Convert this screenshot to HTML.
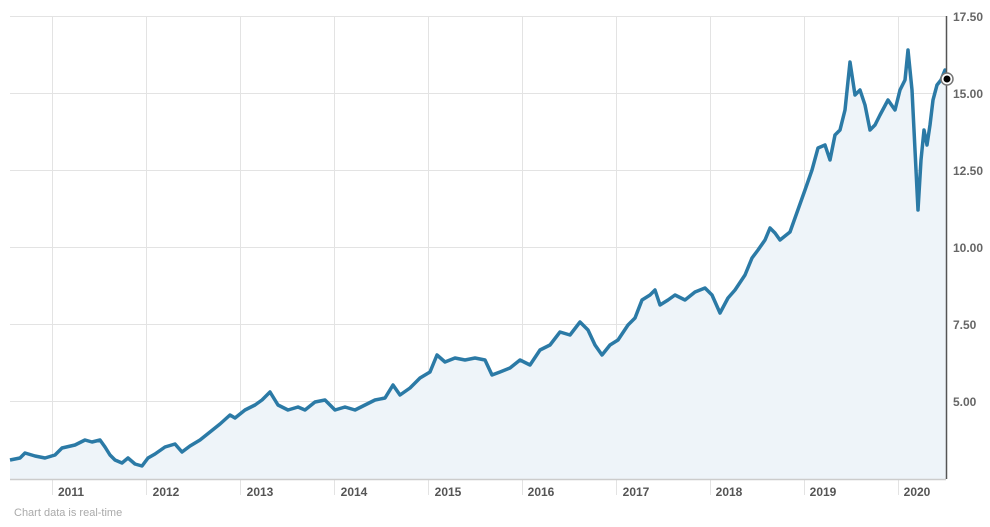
<!DOCTYPE html>
<html><head><style>
body{margin:0;background:#fff;width:990px;height:522px;overflow:hidden;font-family:"Liberation Sans",Arial,sans-serif}
</style></head><body>
<svg width="990" height="522" xmlns="http://www.w3.org/2000/svg">
<g stroke="#e3e3e3" stroke-width="1">
<line x1="10" y1="16.5" x2="946" y2="16.5"/><line x1="10" y1="93.5" x2="946" y2="93.5"/>
<line x1="10" y1="170.5" x2="946" y2="170.5"/><line x1="10" y1="247.5" x2="946" y2="247.5"/>
<line x1="10" y1="324.5" x2="946" y2="324.5"/><line x1="10" y1="401.5" x2="946" y2="401.5"/>
<line x1="52.5" y1="16" x2="52.5" y2="495"/><line x1="146.5" y1="16" x2="146.5" y2="495"/>
<line x1="240.5" y1="16" x2="240.5" y2="495"/><line x1="334.5" y1="16" x2="334.5" y2="495"/>
<line x1="428.5" y1="16" x2="428.5" y2="495"/><line x1="522.5" y1="16" x2="522.5" y2="495"/>
<line x1="616.5" y1="16" x2="616.5" y2="495"/><line x1="710.5" y1="16" x2="710.5" y2="495"/>
<line x1="804.5" y1="16" x2="804.5" y2="495"/><line x1="898.5" y1="16" x2="898.5" y2="495"/>
</g>
<path fill="#eef4f9" d="M10,460 L20,458 L25,453 L35,456 L45,458 L55,455 L62,448 L75,445 L85,440 L92,442 L100,440 L105,447 L110,455 L115,460 L122,463 L128,458 L135,464 L142,466 L148,458 L155,454 L165,447 L175,444 L182,452 L190,446 L200,440 L210,432 L220,424 L230,415 L235,418 L245,410 L255,405 L262,400 L270,392 L278,405 L288,410 L298,407 L305,410 L315,402 L325,400 L335,410 L345,407 L355,410 L365,405 L375,400 L385,398 L393,385 L400,395 L410,388 L420,378 L430,372 L437,355 L445,362 L455,358 L465,360 L475,358 L485,360 L492,375 L500,372 L510,368 L520,360 L530,365 L540,350 L550,345 L560,332 L570,335 L580,322 L588,330 L595,345 L602,355 L610,345 L618,340 L628,325 L635,318 L642,300 L650,295 L655,290 L660,305 L668,300 L675,295 L685,300 L695,292 L705,288 L712,295 L720,313 L728,298 L735,290 L745,275 L752,258 L758,250 L765,240 L770,228 L775,233 L780,240 L790,232 L795,218 L805,190 L812,170 L818,148 L825,145 L830,160 L835,135 L840,130 L845,110 L850,62 L855,95 L860,90 L865,105 L870,130 L875,125 L880,115 L888,100 L895,110 L900,90 L905,80 L908,50 L912,90 L915,150 L918,210 L921,160 L924,130 L927,145 L930,125 L933,100 L937,85 L941,80 L945,70 L946,78 L946,479 L10,479 Z"/>
<line x1="10" y1="479.5" x2="946" y2="479.5" stroke="#ccc" stroke-width="1.5"/>
<path fill="none" stroke="#2b7aa6" stroke-width="3.5" stroke-linejoin="round" d="M10,460 L20,458 L25,453 L35,456 L45,458 L55,455 L62,448 L75,445 L85,440 L92,442 L100,440 L105,447 L110,455 L115,460 L122,463 L128,458 L135,464 L142,466 L148,458 L155,454 L165,447 L175,444 L182,452 L190,446 L200,440 L210,432 L220,424 L230,415 L235,418 L245,410 L255,405 L262,400 L270,392 L278,405 L288,410 L298,407 L305,410 L315,402 L325,400 L335,410 L345,407 L355,410 L365,405 L375,400 L385,398 L393,385 L400,395 L410,388 L420,378 L430,372 L437,355 L445,362 L455,358 L465,360 L475,358 L485,360 L492,375 L500,372 L510,368 L520,360 L530,365 L540,350 L550,345 L560,332 L570,335 L580,322 L588,330 L595,345 L602,355 L610,345 L618,340 L628,325 L635,318 L642,300 L650,295 L655,290 L660,305 L668,300 L675,295 L685,300 L695,292 L705,288 L712,295 L720,313 L728,298 L735,290 L745,275 L752,258 L758,250 L765,240 L770,228 L775,233 L780,240 L790,232 L795,218 L805,190 L812,170 L818,148 L825,145 L830,160 L835,135 L840,130 L845,110 L850,62 L855,95 L860,90 L865,105 L870,130 L875,125 L880,115 L888,100 L895,110 L900,90 L905,80 L908,50 L912,90 L915,150 L918,210 L921,160 L924,130 L927,145 L930,125 L933,100 L937,85 L941,80 L945,70 L946,78"/>
<line x1="946.5" y1="16" x2="946.5" y2="479" stroke="#555" stroke-width="1.5"/>
<circle cx="947" cy="79" r="6" fill="#fff" stroke="#777" stroke-width="1.5"/>
<circle cx="947" cy="79" r="3.5" fill="#000"/>
<g font-size="12" font-weight="bold" fill="#666">
<text x="953" y="21">17.50</text><text x="953" y="98">15.00</text><text x="953" y="175">12.50</text>
<text x="953" y="252">10.00</text><text x="953" y="329">7.50</text><text x="953" y="406">5.00</text>
</g>
<g font-size="12" font-weight="bold" fill="#555" text-anchor="middle">
<text x="71" y="496">2011</text><text x="166" y="496">2012</text><text x="260" y="496">2013</text>
<text x="354" y="496">2014</text><text x="448" y="496">2015</text><text x="541" y="496">2016</text>
<text x="636" y="496">2017</text><text x="729" y="496">2018</text><text x="823" y="496">2019</text><text x="917" y="496">2020</text>
</g>
<text x="14" y="516" font-size="11" fill="#aaa">Chart data is real-time</text>
</svg>
</body></html>
